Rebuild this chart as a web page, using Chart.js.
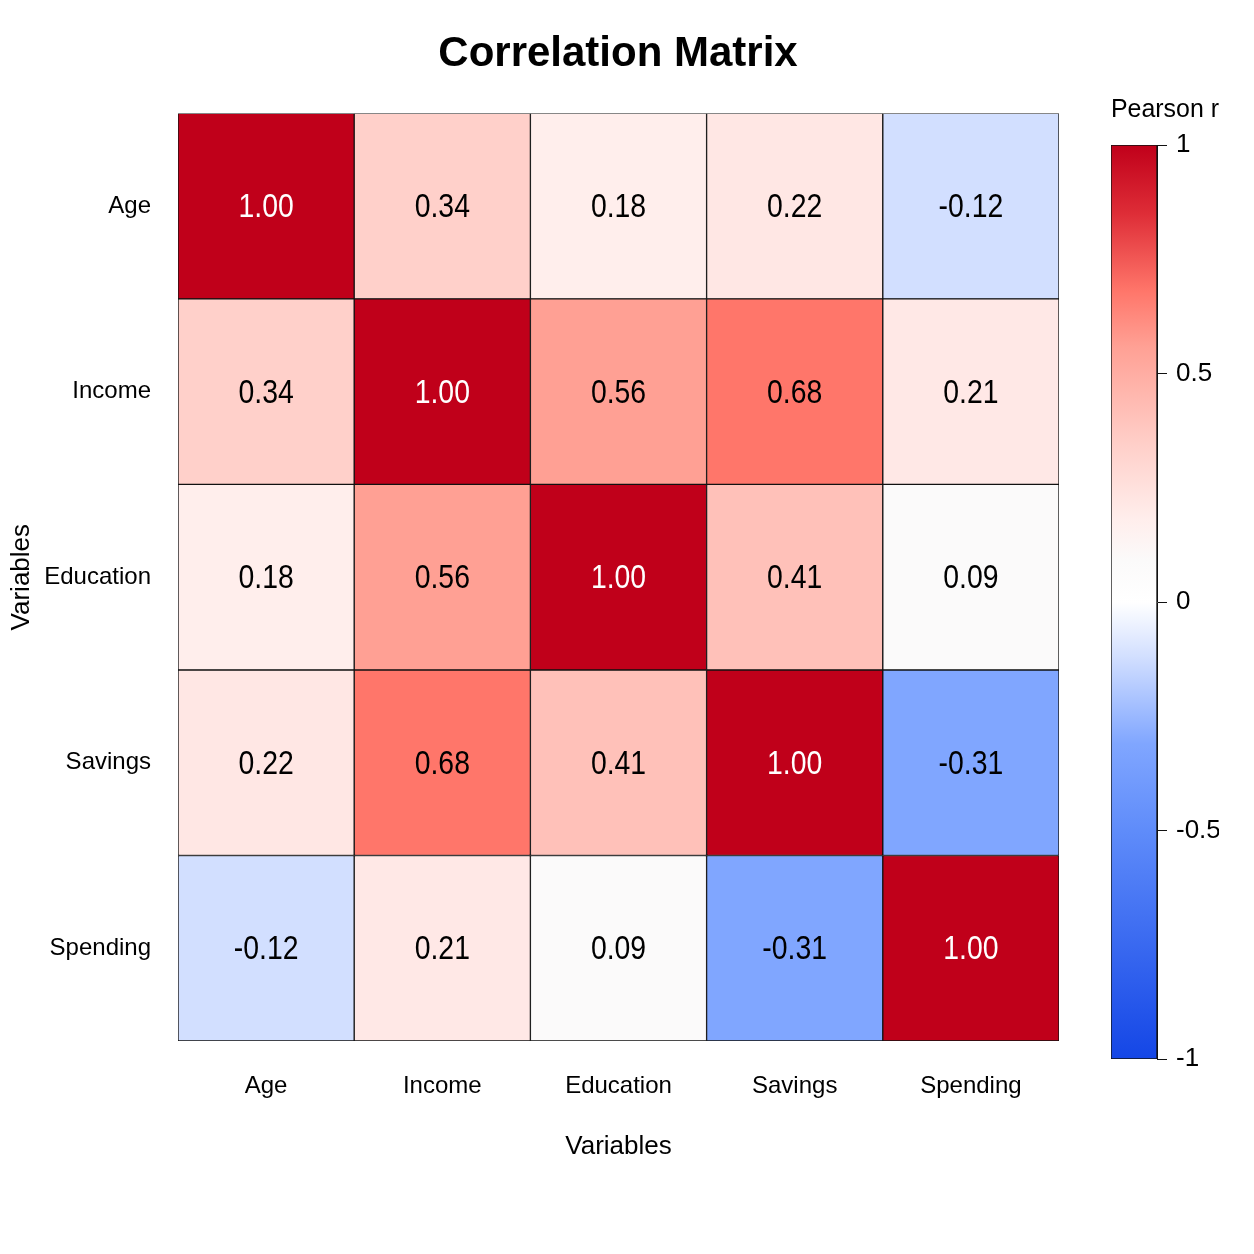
<!DOCTYPE html>
<html>
<head>
<meta charset="utf-8">
<title>Correlation Matrix</title>
<script src="https://cdn.jsdelivr.net/npm/chart.js@4.4.1/dist/chart.umd.min.js"></script>
<style>
  html, body { margin: 0; padding: 0; background: #fff; }
  #wrap { position: relative; width: 1254px; height: 1254px; }
  #matrix { position: absolute; left: 0; top: 0; }
  #colorbar { position: absolute; left: 1080px; top: 70px; }
</style>
</head>
<body>
<div id="wrap">
  <canvas id="matrix" width="1236" height="1254"></canvas>
  <canvas id="colorbar" width="174" height="1030"></canvas>
</div>
<script>
// --------------------------- Data

const VARIABLES = ['Age', 'Income', 'Education', 'Savings', 'Spending'];

// one row per variable, top to bottom
const ROW_AGE       = [1.00, 0.34, 0.18, 0.22, -0.12];
const ROW_INCOME    = [0.34, 1.00, 0.56, 0.68, 0.21];
const ROW_EDUCATION = [0.18, 0.56, 1.00, 0.41, 0.09];
const ROW_SAVINGS   = [0.22, 0.68, 0.41, 1.00, -0.31];
const ROW_SPENDING  = [-0.12, 0.21, 0.09, -0.31, 1.00];

const MATRIX = [ROW_AGE, ROW_INCOME, ROW_EDUCATION, ROW_SAVINGS, ROW_SPENDING];

const COLORBAR_TICKS = [-1, -0.5, 0, 0.5, 1];

// --------------------------- Colour map (value -> rgb)

const COLOR_STOPS = [
    [-1.00, [20, 70, 230]],
    [-0.50, [95, 140, 250]],
    [-0.31, [128, 166, 255]],
    [-0.12, [210, 223, 255]],
    [ 0.00, [255, 255, 255]],
    [ 0.09, [251, 250, 250]],
    [ 0.18, [255, 238, 236]],
    [ 0.34, [255, 208, 202]],
    [ 0.56, [255, 160, 148]],
    [ 0.68, [255, 118, 106]],
    [ 0.85, [222, 45, 55]],
    [ 1.00, [192, 0, 26]]
];

function rgb(c) {
    return 'rgb(' + c.map(Math.round).join(',') + ')';
}

function colorFor(v) {
    for (let i = 1; i < COLOR_STOPS.length; i++) {
        const [v0, c0] = COLOR_STOPS[i - 1];
        const [v1, c1] = COLOR_STOPS[i];
        if (v <= v1) {
            const t = (v - v0) / (v1 - v0);
            return rgb(c0.map((c, k) => c + (c1[k] - c) * t));
        }
    }
    return rgb(COLOR_STOPS[COLOR_STOPS.length - 1][1]);
}

// --------------------------- Setup

Chart.defaults.font.family = '"Liberation Sans", Arial, Helvetica, sans-serif';
Chart.defaults.color = '#000';

// writes the coefficient in the middle of every cell (slightly condensed, like the original)
const cellLabels = {
    id: 'cellLabels',
    afterDatasetsDraw(chart) {
        const ctx = chart.ctx;
        ctx.save();
        ctx.font = '33px "Liberation Sans", Arial, sans-serif';
        ctx.textAlign = 'center';
        ctx.textBaseline = 'middle';
        chart.data.datasets.forEach((ds, i) => {
            chart.getDatasetMeta(i).data.forEach((bar, j) => {
                const v = ds.values[j];
                ctx.save();
                ctx.translate(bar.x, (bar.y + bar.base) / 2 + 2);
                ctx.scale(0.86, 1);
                ctx.fillStyle = v > 0.8 ? '#fff' : '#000';
                ctx.fillText(v.toFixed(2), 0, 0);
                ctx.restore();
            });
        });
        ctx.restore();
    }
};

// rows stacked from the bottom (Spending) to the top (Age), one unit per cell
const rowDatasets = MATRIX.map((row, r) => ({
    label: VARIABLES[r],
    data: row.map(() => 1),
    values: row,
    backgroundColor: row.map(colorFor),
    borderColor: '#111',
    borderWidth: 1,
    borderSkipped: false,
    barPercentage: 1,
    categoryPercentage: 1
})).reverse();

new Chart(document.getElementById('matrix'), {
    type: 'bar',
    data: { labels: VARIABLES, datasets: rowDatasets },
    plugins: [cellLabels],
    options: {
        responsive: false,
        animation: false,
        devicePixelRatio: 1,
        layout: { padding: 0 },
        plugins: {
            legend: { display: false },
            tooltip: { enabled: false },
            title: {
                display: true,
                text: 'Correlation Matrix',
                color: '#000',
                font: { size: 42, weight: 'bold', lineHeight: 1.2 },
                padding: { top: 29, bottom: 34 }
            }
        },
        scales: {
            x: {
                stacked: true,
                grid: { display: false, drawTicks: false },
                border: { display: false },
                ticks: { color: '#000', font: { size: 24 }, padding: 31 },
                title: {
                    display: true,
                    text: 'Variables',
                    color: '#000',
                    font: { size: 26 },
                    padding: { top: 0, bottom: 92 }
                },
                afterFit(scale) { scale.height = 213; }
            },
            y: {
                stacked: true,
                min: 0,
                max: VARIABLES.length,
                grid: { display: false, drawTicks: false },
                border: { display: false },
                afterBuildTicks(scale) {
                    scale.ticks = VARIABLES.map((_, i) => ({ value: i + 0.5 }));
                },
                ticks: {
                    color: '#000',
                    font: { size: 24 },
                    padding: 27,
                    callback: v => VARIABLES[VARIABLES.length - 1 - Math.floor(v)]
                },
                title: {
                    display: true,
                    text: 'Variables',
                    color: '#000',
                    font: { size: 26 },
                    padding: { top: 6, bottom: 0 }
                },
                afterFit(scale) { scale.width = 178; }
            },
            // empty right-hand axis that keeps room for the colour bar
            yRight: {
                position: 'right',
                display: true,
                grid: { display: false, drawTicks: false },
                border: { display: false },
                ticks: { display: false },
                afterFit(scale) { scale.width = 177; }
            }
        }
    }
});

// --------------------------- Colour bar

function gradientFill(context) {
    const chart = context.chart;
    if (!chart.chartArea) return 'rgba(0,0,0,0)';
    const y = chart.scales.y;
    const g = chart.ctx.createLinearGradient(0, y.getPixelForValue(-1), 0, y.getPixelForValue(1));
    COLOR_STOPS.forEach(([v, c]) => g.addColorStop((v + 1) / 2, rgb(c)));
    return g;
}

new Chart(document.getElementById('colorbar'), {
    type: 'bar',
    data: {
        labels: ['r'],
        datasets: [{
            data: [[-1, 1]],
            backgroundColor: gradientFill,
            borderColor: '#111',
            borderWidth: 1,
            borderSkipped: false,
            barPercentage: 1,
            categoryPercentage: 1
        }]
    },
    options: {
        responsive: false,
        animation: false,
        devicePixelRatio: 1,
        layout: { padding: { left: 31, right: 35, top: 0, bottom: 41 } },
        plugins: {
            legend: { display: false },
            tooltip: { enabled: false },
            title: {
                display: true,
                text: 'Pearson r',
                color: '#000',
                font: { size: 25, weight: 'normal', lineHeight: 1.2 },
                padding: { top: 25, bottom: 20 }
            }
        },
        scales: {
            x: { display: false },
            y: {
                position: 'right',
                min: -1,
                max: 1,
                afterBuildTicks(scale) {
                    scale.ticks = COLORBAR_TICKS.map(v => ({ value: v }));
                },
                ticks: { color: '#000', font: { size: 26 }, padding: 9, callback: v => String(v) },
                grid: { drawOnChartArea: false, drawTicks: true, tickLength: 10, color: '#111' },
                border: { display: true, color: '#111' },
                afterFit(scale) { scale.width = 62; }
            }
        }
    }
});
</script>
</body>
</html>
